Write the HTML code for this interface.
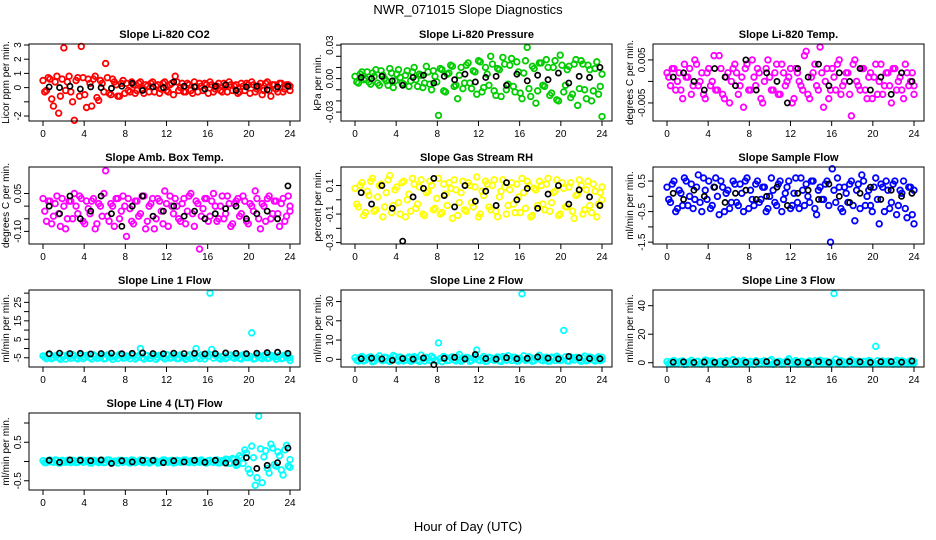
<!DOCTYPE html>
<html><head><meta charset="utf-8"><style>
body{margin:0;background:#fff}
svg{display:block;font-family:"Liberation Sans",sans-serif}
</style></head><body>
<svg id="c" width="936" height="540">
<text x="468" y="14" text-anchor="middle" font-size="13">NWR_071015  Slope Diagnostics</text>
<text x="468" y="531" text-anchor="middle" font-size="13">Hour of Day (UTC)</text>
</svg>
<script>
const panelTitles=["Slope Li-820 CO2","Slope Li-820 Pressure","Slope Li-820 Temp.","Slope Amb. Box Temp.","Slope Gas Stream RH","Slope Sample Flow","Slope Line 1 Flow","Slope Line 2 Flow","Slope Line 3 Flow","Slope Line 4 (LT) Flow"];
const yTitles=["Licor ppm per min.","kPa per min.","degrees C per min.","degrees C per min.","percent per min.","ml/min per min.","ml/min per min.","ml/min per min.","ml/min per min.","ml/min per min."];
const colors=["#ff0000","#00cc00","#ff00ff","#ff00ff","#ffff00","#0000ff","#00ffff","#00ffff","#00ffff","#00ffff"];
const yDomains=[[-2.35,3.07],[-0.038,0.031],[-0.0092,0.0087],[-0.15,0.155],[-0.31,0.23],[-1.56,0.96],[-10,31.7],[-4,36],[-3,51],[-0.74,1.26]];
const yTicks=[[-2,-1,0,1,2,3],[-0.03,-0.02,-0.01,0,0.01,0.02,0.03],[-0.005,0,0.005],[-0.1,-0.05,0,0.05],[-0.3,-0.2,-0.1,0,0.1],[-1.5,-1,-0.5,0,0.5],[-5,0,5,10,15,20,25,30],[0,10,20,30],[0,20,40],[-0.5,0,0.5,1]];
const yTickLabels=[["-2","","0","1","2","3"],["-0.03","","","0.00","","","0.03"],["-0.005","","0.005"],["-0.10","","","0.05"],["-0.3","","-0.1","","0.1"],["-1.5","","-0.5","","0.5"],["-5","","5","","15","","25",""],["0","10","20","30"],["0","20","40"],["-0.5","","0.5",""]];
const xTicks=[0,4,8,12,16,20,24];
const co2=[0.5,-0.2,0.6,-1.3,0.8,-0.6,2.8,0.4,-0.3,-2.3,0.7,2.9,-0.5,0.6,-1.3,0.8,-0.9,0.3,1.7,-0.4,0.6,0.2,-0.6,0.5,0.3,-0.3,0.2,-0.2,0.4,-0.4,0.1,0.3,-0.3,0.2,-0.1,0.4,-0.3,0.3,0.8,-0.2,0.3,-0.3,0.2,-0.4,0.1,0.3,-0.2,0.2,0.4,-0.3,0.1,-0.2,0.3,-0.3,0.2,0.1,-0.4,0.3,-0.2,0.2,0.4,-0.3,0.1,-0.5,0.3,-0.2,0.2,-0.1,0.3,-0.3,0.2,0.1];
const co2B=[-0.3,0.7,-0.8,0.4,-1.8,0.6,-0.2,0.8,-1.0,0.5,-0.6,0.7,-1.4,0.3,0.6,-0.7,0.5,-0.3,0.7,-0.5,0.4,-0.6,0.3,-0.4,-0.2,0.4,-0.4,0.3,-0.1,0.2,-0.3,0.4,0.1,-0.4,0.3,-0.2,0.2,-0.5,0.4,0.0,-0.3,0.3,-0.2,0.4,-0.3,0.1,0.3,-0.4,0.2,-0.1,0.3,-0.3,0.1,0.4,-0.2,0.2,-0.3,0.1,0.3,-0.4,0.2,-0.1,0.3,-0.2,0.4,-0.6,0.2,-0.3,0.3,-0.1,0.2,-0.2];
const co2Avg=[0.05,0.0,0.1,-0.1,0.05,0.0,-0.05,0.1,0.3,-0.2,0.05,0.0,0.4,0.1,0.05,-0.1,0.1,0.2,-0.2,0.05,0.1,-0.15,0.05,0.1];
const pres=[0.002,-0.004,0.006,0.000,-0.003,0.005,0.008,-0.006,0.003,-0.002,0.009,-0.008,0.004,0.001,-0.005,0.007,-0.002,0.010,-0.007,0.003,-0.004,0.006,-0.010,0.002,-0.033,0.008,-0.012,0.005,0.011,-0.006,0.003,-0.009,0.012,-0.004,0.007,-0.014,0.015,-0.008,0.004,0.020,-0.011,0.009,-0.016,0.013,-0.005,0.018,-0.012,0.006,-0.018,0.016,-0.009,0.011,-0.022,0.014,-0.006,0.017,-0.015,0.010,-0.019,0.021,-0.012,0.008,-0.017,0.013,-0.024,0.016,-0.010,0.012,-0.020,0.009,-0.014,-0.034];
const presB=[-0.003,0.004,-0.001,0.006,-0.005,0.002,-0.004,0.007,0.000,-0.006,0.005,-0.002,0.008,-0.004,0.003,-0.007,0.006,-0.001,0.004,-0.008,0.011,-0.005,0.007,-0.003,0.009,-0.011,0.004,0.012,-0.007,-0.018,0.010,-0.004,0.014,-0.009,0.006,0.016,-0.012,0.010,-0.006,0.013,-0.015,0.008,0.019,-0.010,0.012,-0.007,0.015,-0.013,0.005,0.028,-0.016,0.009,-0.011,0.014,-0.007,0.010,-0.013,0.016,-0.020,0.012,-0.006,0.011,-0.014,0.017,-0.009,0.013,-0.018,0.008,-0.011,0.015,-0.007,0.004];
const presAvg=[0.001,0.000,0.002,-0.002,-0.006,0.001,0.003,-0.004,0.002,-0.001,0.004,-0.003,0.001,0.002,-0.006,0.004,-0.002,0.003,-0.001,0.005,-0.004,0.002,0.001,0.010];
const temp=[0.002,-0.001,0.003,0.000,-0.002,0.004,0.001,-0.003,0.005,-0.001,0.002,-0.004,0.003,0.000,-0.002,0.006,-0.003,0.001,-0.005,0.003,0.002,-0.001,-0.006,0.004,-0.002,0.001,0.003,-0.004,0.000,0.005,-0.002,0.002,-0.003,0.004,-0.001,0.001,-0.005,0.003,0.000,-0.002,0.007,-0.004,0.002,-0.001,0.008,-0.006,0.003,-0.002,0.001,0.004,-0.003,0.000,0.002,-0.008,0.005,-0.001,0.003,-0.002,0.001,-0.004,0.004,0.000,-0.003,0.002,-0.001,0.003,-0.002,0.001,-0.004,0.002,0.000,-0.001];
const tempB=[0.001,0.003,-0.002,0.002,-0.004,0.001,0.003,-0.001,0.004,0.000,-0.003,0.002,-0.001,0.006,-0.002,0.003,-0.004,0.002,0.000,0.004,-0.003,0.001,0.003,-0.002,0.005,-0.001,0.002,-0.005,0.003,0.001,-0.002,0.004,-0.003,0.002,0.000,0.003,-0.004,0.002,-0.001,0.006,-0.003,0.001,0.004,-0.002,0.002,0.000,-0.004,0.003,-0.002,0.005,-0.001,0.002,-0.003,0.004,0.000,-0.002,0.003,-0.004,0.002,0.001,-0.003,0.004,-0.001,0.002,-0.005,0.003,0.000,-0.002,0.004,-0.001,0.002,-0.003];
const tempAvg=[0.001,0.002,0.000,-0.002,0.003,0.001,-0.001,0.005,-0.002,0.002,0.000,-0.005,0.003,0.001,0.004,-0.001,0.002,0.000,0.003,-0.002,0.001,-0.003,0.002,0.000];
const amb=[0.03,-0.06,0.02,-0.04,0.04,-0.08,0.00,-0.05,0.02,0.05,-0.03,0.03,-0.07,-0.01,0.02,-0.09,0.01,-0.04,0.14,-0.06,0.00,0.03,-0.05,0.04,-0.12,-0.01,-0.07,0.02,-0.03,0.04,-0.06,0.01,-0.09,0.03,-0.02,0.06,-0.08,0.00,0.03,-0.05,0.01,-0.07,0.04,-0.03,0.02,-0.17,-0.01,0.03,-0.04,0.05,-0.06,0.00,-0.05,0.04,-0.08,0.01,0.03,-0.03,0.02,-0.07,0.00,0.06,-0.05,0.01,-0.06,0.04,-0.03,0.02,-0.08,0.03,-0.04,0.00];
const ambB=[-0.02,0.02,-0.07,0.01,-0.03,0.03,-0.09,0.02,-0.05,0.00,0.04,-0.06,0.02,-0.03,0.03,-0.07,0.00,0.05,-0.04,0.01,-0.08,0.03,-0.02,0.00,0.03,-0.06,0.02,-0.04,0.04,-0.09,0.00,0.03,-0.05,0.02,-0.07,0.01,0.04,-0.03,0.00,-0.06,0.03,-0.02,0.05,-0.08,0.01,-0.04,0.03,-0.06,0.02,0.00,-0.05,0.04,-0.03,0.01,-0.07,0.02,-0.04,0.04,-0.06,0.01,-0.02,0.03,-0.09,0.00,0.03,-0.05,0.02,-0.03,0.01,-0.06,0.04,-0.02];
const ambAvg=[0.00,-0.03,0.04,-0.05,-0.02,0.04,-0.03,-0.08,0.00,0.04,-0.04,-0.02,0.00,-0.04,-0.02,-0.05,-0.03,-0.01,0.00,-0.05,-0.03,-0.02,-0.05,0.08];
const rh=[0.08,-0.05,0.12,-0.09,0.03,0.15,-0.07,0.10,-0.12,0.05,0.17,-0.04,0.09,-0.10,0.13,0.00,-0.08,0.11,-0.03,0.14,-0.11,0.06,0.10,-0.06,0.15,-0.09,0.04,0.12,-0.13,0.07,-0.02,0.13,-0.08,0.10,-0.05,0.16,-0.10,0.03,0.11,-0.07,0.14,-0.12,0.06,0.09,-0.04,0.12,-0.09,0.02,0.15,-0.06,0.10,-0.11,0.07,0.13,-0.03,0.11,-0.08,0.05,0.14,-0.10,0.08,-0.05,0.12,-0.13,0.04,0.10,-0.07,0.13,-0.09,0.06,-0.03,0.09];
const rhB=[-0.03,0.10,-0.11,0.06,0.13,-0.08,0.02,0.11,-0.05,0.14,-0.09,0.07,-0.02,0.12,-0.12,0.04,0.15,-0.06,0.09,-0.10,0.05,0.13,-0.07,0.01,-0.10,0.11,-0.04,0.08,0.14,-0.11,0.05,-0.07,0.12,-0.02,0.09,-0.12,0.06,0.13,-0.05,0.10,-0.08,0.02,0.14,-0.10,0.07,-0.03,0.11,-0.09,0.05,0.13,-0.12,0.08,-0.04,0.10,-0.07,0.15,-0.02,0.06,-0.11,0.12,-0.05,0.09,-0.08,0.03,0.14,-0.10,0.07,-0.04,0.11,-0.12,0.05,0.00];
const rhAvg=[0.05,-0.03,0.10,-0.06,-0.29,0.02,0.08,0.15,0.03,-0.05,0.10,-0.01,0.06,-0.04,0.12,0.00,0.08,-0.06,0.04,0.10,-0.03,0.07,0.02,-0.04];
const samp=[0.3,-0.2,0.5,-0.4,0.1,0.6,-0.3,0.4,-0.1,0.7,-0.5,0.2,0.5,-0.3,0.6,-0.6,0.3,0.1,-0.4,0.5,-0.2,0.4,-0.5,0.6,0.2,-0.3,0.5,-0.1,0.3,-0.4,0.6,-0.2,0.4,-0.5,0.1,0.5,-0.3,0.6,-0.4,0.2,0.4,-0.2,0.5,-0.6,0.3,-0.1,0.5,-1.5,0.2,0.6,-0.4,0.3,-0.2,0.5,-0.8,0.4,0.7,-0.3,0.2,-0.5,0.6,-0.9,0.3,0.5,-0.4,0.4,-0.6,0.2,0.5,-0.7,0.3,-0.9];
const sampB=[-0.1,0.4,-0.5,0.2,-0.3,0.5,0.0,-0.4,0.3,-0.2,0.6,-0.1,-0.4,0.3,0.0,0.5,-0.5,0.2,-0.2,0.4,-0.3,0.1,0.5,-0.4,-0.1,0.4,-0.2,0.3,-0.5,0.0,0.2,-0.3,0.5,-0.1,0.3,-0.4,0.1,-0.2,0.6,-0.3,0.0,0.5,-0.4,0.2,-0.1,0.4,-0.3,0.9,-0.2,0.3,-0.5,0.1,0.4,-0.3,0.2,-0.4,0.5,0.0,-0.3,0.3,-0.1,0.4,-0.5,0.2,-0.2,0.5,-0.3,0.1,-0.4,0.3,-0.6,0.2];
const sampAvg=[0.1,-0.1,0.2,0.0,0.3,-0.2,0.1,0.2,-0.1,0.0,0.3,-0.3,0.1,0.2,-0.1,0.4,0.0,-0.2,0.1,0.3,-0.1,0.2,0.0,0.1];
const line1=[-4.0,-5.5,-3.3,-5.0,-3.7,-5.8,-4.2,-3.5,-5.3,-3.9,-5.6,-3.1,-4.8,-3.6,-5.7,-4.1,-5.1,-3.4,-5.4,-3.8,-5.9,-4.3,-3.2,-5.2,-4.0,-5.5,-3.7,-4.9,0.0,-5.7,-3.9,-5.3,-3.5,-4.8,-3.8,-5.6,-3.6,-5.0,-3.3,-5.4,-4.1,-5.8,-3.4,-5.1,0.0,-5.5,-4.2,-3.1,30.0,-5.2,-3.6,-5.7,-4.0,-4.9,-3.5,-5.3,-3.9,-5.6,-3.2,-5.0,8.5,-5.4,-3.8,-5.5,-3.3,-5.1,-4.1,-5.8,-3.6,-5.2,-3.4,-4.9];
const line1B=[-4.7,-3.4,-5.5,-4.1,-5.0,-3.6,-5.7,-4.4,-3.3,-5.1,-3.9,-5.5,-3.7,-4.9,-3.4,-5.3,-4.2,-5.6,-3.5,-4.7,-4.0,-5.4,-3.8,-5.1,-4.3,-3.4,-5.7,-3.9,-5.0,-3.6,-5.4,-4.1,-5.8,-3.7,-4.8,-3.3,-5.2,-4.0,-5.5,-3.5,-4.9,-4.2,-5.4,-3.8,-4.6,-3.4,-5.6,-4.1,-0.5,-3.7,-5.1,-4.3,-5.5,-3.6,-4.8,-4.0,-5.3,-3.4,-5.0,-4.2,-5.7,-3.5,-4.9,-3.9,-5.4,-3.7,-4.7,-4.3,-5.5,-3.6,-5.1,-6.5];
const line1Avg=[-2.8,-2.5,-2.7,-2.6,-2.9,-2.7,-2.5,-2.8,-2.6,-2.4,-2.7,-2.8,-2.5,-2.7,-2.6,-2.9,-2.7,-2.4,-2.6,-2.8,-2.5,-2.2,-2.0,-2.6];
const line2=[0.8,-0.9,1.5,-0.4,1.0,-1.2,0.5,1.8,-0.7,0.9,-1.1,2.0,-0.3,1.2,-0.8,0.6,-1.0,1.4,-0.5,2.2,-0.9,0.4,1.6,-0.6,8.5,-1.2,0.9,-0.5,1.3,-0.8,2.5,-0.4,1.0,-1.0,0.6,4.8,-0.7,1.5,-0.9,0.8,-0.5,1.2,-1.1,0.7,1.9,-0.6,1.0,-0.8,34.0,-0.5,1.3,-1.0,0.6,2.1,-0.7,1.1,-0.9,0.5,1.6,-0.6,15.0,-0.8,1.2,-0.4,0.9,-1.0,1.7,-0.5,0.8,-0.9,1.3,-0.3];
const line2B=[-0.5,1.0,-0.8,0.4,1.3,-1.0,0.6,-0.3,1.1,-0.7,0.2,1.4,-0.9,0.5,-0.4,1.2,-0.6,0.8,-1.1,0.3,1.0,-0.5,0.7,-0.9,0.4,1.5,-0.7,0.9,-0.3,1.2,-1.0,0.5,0.8,-0.6,1.3,-0.4,0.6,-1.1,1.0,-0.2,0.7,-0.8,1.4,-0.5,0.3,1.1,-0.9,0.6,1.8,-0.3,0.9,-0.7,1.2,-0.4,0.5,-1.0,1.1,-0.6,0.8,-0.3,1.3,-0.9,0.4,1.0,-0.5,0.7,-0.8,1.2,-0.4,0.6,-0.7,1.0];
const line2Avg=[0.3,0.6,0.2,-0.5,0.4,0.1,0.7,-2.8,0.5,1.0,0.2,2.5,0.4,0.1,0.8,0.3,0.5,1.2,0.6,0.2,1.5,0.8,0.4,0.3];
const line3=[0.8,-0.9,1.5,-0.5,1.1,-1.2,0.4,1.7,-0.8,0.9,-1.0,1.9,-0.4,1.2,-0.7,0.6,-1.1,1.4,-0.5,2.1,-0.9,0.3,1.6,-0.6,1.0,-1.2,0.9,-0.5,1.3,-0.8,2.3,-0.4,1.0,-1.0,0.6,2.8,-0.7,1.5,-0.9,0.8,-0.5,1.2,-1.1,0.7,1.8,-0.6,1.0,-0.8,48.5,-0.5,1.3,-1.0,0.6,2.0,-0.7,1.1,-0.9,0.5,1.6,-0.6,11.5,-0.8,1.2,-0.4,0.9,-1.0,1.7,-0.5,0.8,-0.9,1.3,-0.3];
const line3B=[-0.6,1.1,-0.7,0.5,1.2,-1.0,0.4,-0.4,1.0,-0.8,0.3,1.5,-0.9,0.6,-0.3,1.1,-0.7,0.9,-1.0,0.2,1.2,-0.5,0.8,-0.9,0.5,1.4,-0.6,1.0,-0.4,1.3,-1.1,0.4,0.9,-0.5,1.5,-0.3,0.7,-1.0,1.1,-0.2,0.6,-0.9,1.3,-0.6,0.4,1.0,-0.8,0.5,2.5,-0.4,0.8,-0.6,1.1,-0.5,0.6,-0.9,1.0,-0.7,0.9,-0.2,1.4,-0.8,0.5,1.1,-0.6,0.6,-0.9,1.3,-0.5,0.7,-0.6,0.9];
const line3Avg=[0.4,0.6,0.2,0.5,0.3,0.1,0.7,0.3,0.5,0.8,0.2,0.6,0.4,0.1,0.8,0.3,0.5,0.9,0.6,0.2,0.7,0.8,0.4,1.2];
const line4=[0.02,-0.03,0.04,-0.02,0.03,-0.04,0.01,0.03,-0.03,0.02,-0.02,0.04,-0.01,0.03,-0.04,0.02,-0.03,0.03,-0.02,0.04,-0.03,0.01,0.03,-0.02,0.02,-0.04,0.03,-0.01,0.04,-0.03,0.02,-0.02,0.03,-0.04,0.01,0.04,-0.02,0.03,-0.03,0.02,-0.01,0.04,-0.03,0.02,0.03,-0.02,0.01,-0.04,0.03,-0.02,0.04,-0.03,0.02,0.05,-0.04,0.06,-0.08,0.10,0.30,-0.20,0.40,-0.62,1.18,-0.55,0.28,-0.30,0.35,-0.12,0.15,-0.35,0.42,-0.15];
const line4B=[-0.03,0.02,-0.01,0.04,-0.04,0.03,-0.02,0.01,0.03,-0.03,0.04,-0.02,0.02,-0.04,0.03,-0.01,0.02,-0.03,0.04,-0.02,0.01,-0.04,0.03,0.02,-0.02,0.04,-0.03,0.01,-0.02,0.03,-0.04,0.02,0.01,-0.03,0.04,-0.01,0.02,-0.04,0.03,-0.02,0.04,-0.01,0.02,-0.03,0.01,0.04,-0.03,0.02,-0.01,0.03,-0.04,0.02,0.06,-0.05,0.08,-0.10,0.15,-0.05,0.22,-0.30,0.10,-0.42,0.33,0.12,-0.18,0.45,-0.08,0.25,-0.22,0.30,-0.12,0.05];
const line4Avg=[0.03,-0.02,0.04,0.03,0.02,0.04,-0.05,0.02,-0.01,0.03,0.03,-0.03,0.02,-0.01,0.03,-0.02,0.03,-0.04,-0.02,0.10,-0.18,-0.10,-0.03,0.35];
const series=[co2,pres,temp,amb,rh,samp,line1,line2,line3,line4];
const seriesB=[co2B,presB,tempB,ambB,rhB,sampB,line1B,line2B,line3B,line4B];
const avgSeries=[co2Avg,presAvg,tempAvg,ambAvg,rhAvg,sampAvg,line1Avg,line2Avg,line3Avg,line4Avg];

const NS="http://www.w3.org/2000/svg";
const svg=document.getElementById('c');
function mk(tag,attrs,parent){const e=document.createElementNS(NS,tag);for(const k in attrs)e.setAttribute(k,attrs[k]);parent.appendChild(e);return e;}
const colL=[29,341,653], rowT=[44,167,290,413], W=271, H=77;
series.forEach((data,p)=>{
  const L=colL[p%3], T=rowT[Math.floor(p/3)];
  const g=mk('g',{},svg);
  
  
  const xs=h=>L+14+h*(247/24);
  const [y0,y1]=yDomains[p];
  const ys=v=>T+H-(v-y0)/(y1-y0)*H;
  const t=mk('text',{x:L+W/2,y:T-6,'text-anchor':'middle','font-size':11,'font-weight':'bold'},g);
  t.textContent=panelTitles[p];
  
  
  const yt=mk('text',{transform:`translate(${L-20},${T+H/2}) rotate(-90)`,'text-anchor':'middle','font-size':10},g);
  yt.textContent=yTitles[p];
  
  
  xTicks.forEach(v=>{
    mk('line',{x1:xs(v),x2:xs(v),y1:T+H,y2:T+H+5,stroke:'#000'},g);
    const lt=mk('text',{x:xs(v),y:T+H+16,'text-anchor':'middle','font-size':10},g);
    lt.textContent=v;
    
    
  });
  yTicks[p].forEach((v,i)=>{
    mk('line',{x1:L-5,x2:L,y1:ys(v),y2:ys(v),stroke:'#000'},g);
    const lab=yTickLabels[p][i];
    if(lab){
      const lt=mk('text',{transform:`translate(${L-8},${ys(v)}) rotate(-90)`,'text-anchor':'middle','font-size':10},g);
      lt.textContent=lab;
      
      
    }
  });
  const drawSet=(arr,off)=>{
    const n=arr.length;
    arr.forEach((v,i)=>{
      const c=mk('circle',{cx:xs(Math.min(24,i*24/(n-1)+off)),cy:ys(v),r:2.8,fill:'none',stroke:colors[p],'stroke-width':1.8},g);
      
      
    });
  };
  drawSet(data,0);
  drawSet(seriesB[p],0.17);
  const a=avgSeries[p];
  a.forEach((v,i)=>{
    const c=mk('circle',{cx:xs(0.6+i*23.2/(a.length-1)),cy:ys(v),r:2.6,fill:'none',stroke:'#000','stroke-width':1.7},g);
    
    
  });
  const box=mk('rect',{x:L,y:T,width:W,height:H,fill:'none',stroke:'#000'},g);
  
  
});
</script>
</body></html>
